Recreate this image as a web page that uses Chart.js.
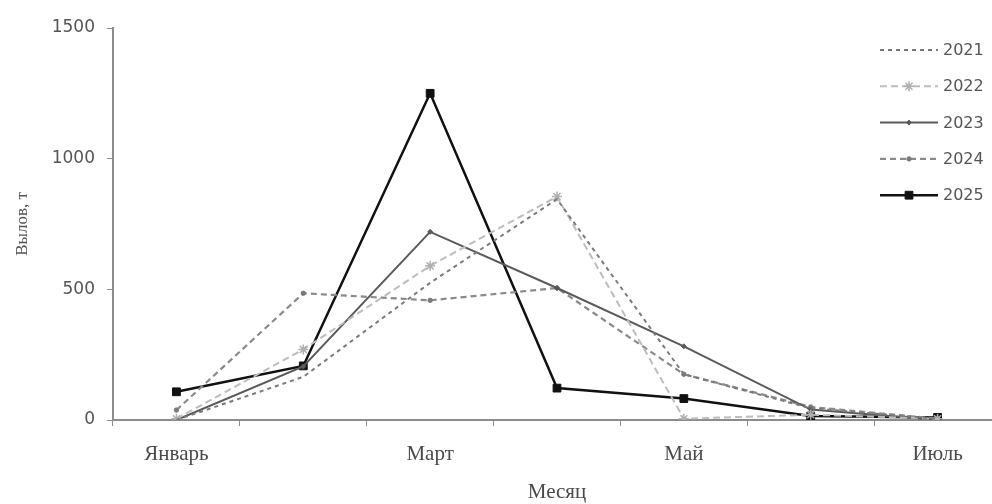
<!DOCTYPE html>
<html lang="ru">
<head>
<meta charset="utf-8">
<title>Вылов по месяцам</title>
<script src="https://cdn.jsdelivr.net/npm/chart.js@4/dist/chart.umd.min.js"></script>
<style>
  html, body { margin: 0; padding: 0; background: #fff; overflow: hidden; }
  #wrap { width: 1012px; height: 504px; }
</style>
</head>
<body>
<div id="wrap"><canvas id="c" width="1012" height="504"></canvas></div>
<script>
// Months on the horizontal axis
const months = ['Январь', 'Февраль', 'Март', 'Апрель', 'Май', 'Июнь', 'Июль'];

// Catch per month, tonnes
const catch2021 = [0, 165, 525, 845, 175, 45, 5];
const catch2022 = [5, 270, 590, 855, 5, 20, 5];
const catch2023 = [0, 205, 720, 505, 282, 40, 0];
const catch2024 = [38, 485, 458, 505, 175, 50, 5];
const catch2025 = [108, 207, 1250, 122, 82, 15, 10];

// Value axis ticks
const yTicks = [0, 500, 1000, 1500];

const axisColor = '#8c8c8c';
const textColor = '#555';

const datasets = [
  { label: '2021', data: catch2021, borderColor: '#7a7a7a', borderWidth: 2, borderDash: [4, 4],
    pointStyle: 'circle', pointRadius: 0, pointBorderWidth: 0, backgroundColor: '#7a7a7a' },
  { label: '2022', data: catch2022, borderColor: '#bdbdbd', borderWidth: 2, borderDash: [7, 4],
    pointStyle: 'star', pointRadius: 5, pointBorderWidth: 1.5, pointBorderColor: '#b0b0b0', backgroundColor: '#bdbdbd' },
  { label: '2023', data: catch2023, borderColor: '#5a5a5a', borderWidth: 2, borderDash: [],
    pointStyle: 'rectRot', pointRadius: 2.5, pointBorderWidth: 1, pointBorderColor: '#5a5a5a', backgroundColor: '#5a5a5a' },
  { label: '2024', data: catch2024, borderColor: '#8a8a8a', borderWidth: 2.2, borderDash: [6, 4],
    pointStyle: 'circle', pointRadius: 2.2, pointBorderWidth: 1, pointBorderColor: '#7a7a7a', backgroundColor: '#7a7a7a' },
  { label: '2025', data: catch2025, borderColor: '#111', borderWidth: 2.5, borderDash: [],
    pointStyle: 'rect', pointRadius: 5.5, pointBorderWidth: 1, pointBorderColor: '#111', backgroundColor: '#111' }
].map(d => Object.assign({ fill: false, tension: 0, pointBackgroundColor: d.backgroundColor }, d));

// Legend drawn inside the plot, top right, Excel style
const insideLegend = {
  id: 'insideLegend',
  afterDatasetsDraw(chart) {
    const ctx = chart.ctx;
    const x0 = 880, x1 = 938, xm = 909, xt = 943;
    chart.data.datasets.forEach((ds, i) => {
      const y = 50 + i * 36.3;
      ctx.save();
      ctx.strokeStyle = ds.borderColor;
      ctx.lineWidth = ds.borderWidth;
      ctx.setLineDash(ds.borderDash || []);
      ctx.beginPath();
      ctx.moveTo(x0, y);
      ctx.lineTo(x1, y);
      ctx.stroke();
      ctx.setLineDash([]);
      if (ds.pointRadius > 0) {
        ctx.fillStyle = ds.pointBackgroundColor;
        ctx.strokeStyle = ds.pointBorderColor;
        ctx.lineWidth = ds.pointBorderWidth;
        Chart.helpers.drawPoint(ctx, {
          pointStyle: ds.pointStyle, radius: ds.pointRadius, rotation: 0, borderWidth: ds.pointBorderWidth
        }, xm, y);
      }
      ctx.fillStyle = textColor;
      ctx.font = '16px "DejaVu Sans"';
      ctx.textAlign = 'left';
      ctx.textBaseline = 'middle';
      ctx.fillText(ds.label, xt, y + 1);
      ctx.restore();
    });
  }
};

new Chart(document.getElementById('c'), {
  type: 'line',
  data: { labels: months, datasets },
  plugins: [insideLegend],
  options: {
    responsive: false,
    animation: false,
    events: [],
    layout: { padding: { left: 0, right: 11, top: 28, bottom: 0 } },
    plugins: { legend: { display: false }, tooltip: { enabled: false } },
    scales: {
      x: {
        type: 'category',
        offset: true,
        grid: { offset: true, drawOnChartArea: false, drawTicks: true, tickLength: 6, color: axisColor, lineWidth: 1 },
        border: { display: true, color: axisColor, width: 2 },
        ticks: {
          autoSkip: false, maxRotation: 0, padding: 16, color: '#4a4a4a',
          font: { family: '"Liberation Serif"', size: 21 },
          callback: (v, i) => (i % 2 === 0 ? months[i] : '')
        },
        title: { display: true, text: 'Месяц', color: '#4a4a4a', padding: 0,
          font: { family: '"Liberation Serif"', size: 21, lineHeight: 1.1 } },
        afterFit: s => { s.height = 84; }
      },
      y: {
        min: 0, max: 1500,
        afterBuildTicks: s => { s.ticks = yTicks.map(v => ({ value: v })); },
        grid: { drawOnChartArea: false, drawTicks: true, tickLength: 6, color: axisColor, lineWidth: 1 },
        border: { display: true, color: axisColor, width: 2 },
        ticks: { padding: 12, color: textColor, font: { family: '"DejaVu Sans"', size: 17 },
          callback: v => String(v) },
        title: { display: true, text: 'Вылов, т', color: textColor, padding: { top: 12, bottom: 0 },
          font: { family: '"Liberation Serif"', size: 17, lineHeight: 1.2 } },
        afterFit: s => { s.width = 113; }
      }
    }
  }
});
</script>
</body>
</html>
